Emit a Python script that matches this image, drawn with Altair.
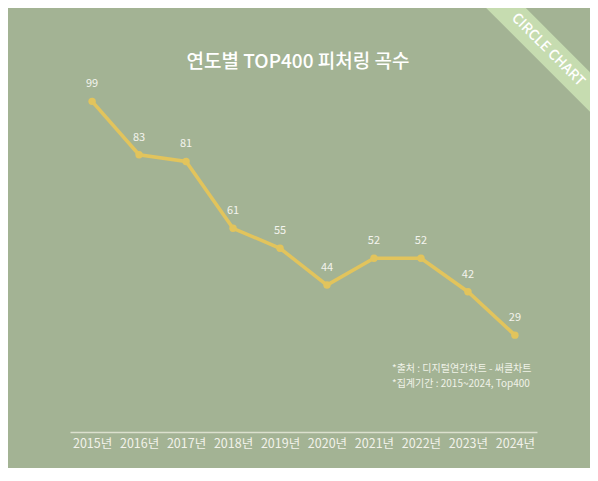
import altair as alt
import pandas as pd

years = ["2015년", "2016년", "2017년", "2018년", "2019년", "2020년", "2021년", "2022년", "2023년", "2024년"]
counts = [99, 83, 81, 61, 55, 44, 52, 52, 42, 29]
title_text = "연도별 TOP400 피처링 곡수"
notes = ["*출처 : 디지털연간차트 - 써클차트", "*집계기간 : 2015~2024, Top400"]
banner_text = "CIRCLE CHART"

FONT = "Noto Sans CJK KR"
BG = "#A3B394"
LINE = "#E2C45C"

df = pd.DataFrame({"year": years, "count": counts})
one = pd.DataFrame({"a": [0]})

x = alt.X("year:N", sort=years,
          scale=alt.Scale(type="point", padding=0.47),
          axis=alt.Axis(title=None, labelAngle=0, ticks=False, grid=False,
                        domainColor="#DCE0CE", domainWidth=1.5,
                        labelColor="#F2F2EA", labelFont=FONT, labelFontSize=12.5,
                        labelPadding=5))
y = alt.Y("count:Q", scale=alt.Scale(domain=[0, 100], nice=False), axis=None)

base = alt.Chart(df).encode(x=x, y=y)
line = base.mark_line(color=LINE, strokeWidth=3.5)
pts = base.mark_point(filled=True, color=LINE, size=55, opacity=1)
labels = base.mark_text(dy=-17, color="#F4F4EE", font=FONT, fontSize=11).encode(text="count:Q")

band = alt.Chart(one).mark_rule(strokeWidth=28, color="#C6DCB0", clip=False).encode(
    x=alt.value(390), x2=alt.value(550), y=alt.value(-136), y2=alt.value(24))
banner = alt.Chart(one).mark_text(text=banner_text, angle=45, color="#FFFFFF", font=FONT,
                                  fontSize=14, fontWeight=500, align="center",
                                  baseline="middle").encode(x=alt.value(478), y=alt.value(-48))
title = alt.Chart(one).mark_text(text=title_text, color="#FFFFFF", font=FONT, fontSize=19,
                                 fontWeight=500, align="center", baseline="middle").encode(
    x=alt.value(228), y=alt.value(-36))
note1 = alt.Chart(one).mark_text(text=notes[0], color="#F0F2E8", font=FONT, fontSize=10,
                                 align="left", baseline="middle").encode(
    x=alt.value(322), y=alt.value(271))
note2 = alt.Chart(one).mark_text(text=notes[1], color="#F0F2E8", font=FONT, fontSize=10,
                                 align="left", baseline="middle").encode(
    x=alt.value(322), y=alt.value(286))

chart = alt.layer(band, banner, title, note1, note2, line, pts, labels).properties(
    width=467, height=334,
    autosize=alt.AutoSizeParams(type="none"),
    padding={"left": 62, "top": 90, "right": 53, "bottom": 36},
).configure(background=BG).configure_view(stroke=None)

chart.save("out.html", embed_options={"renderer": "svg", "actions": False})
